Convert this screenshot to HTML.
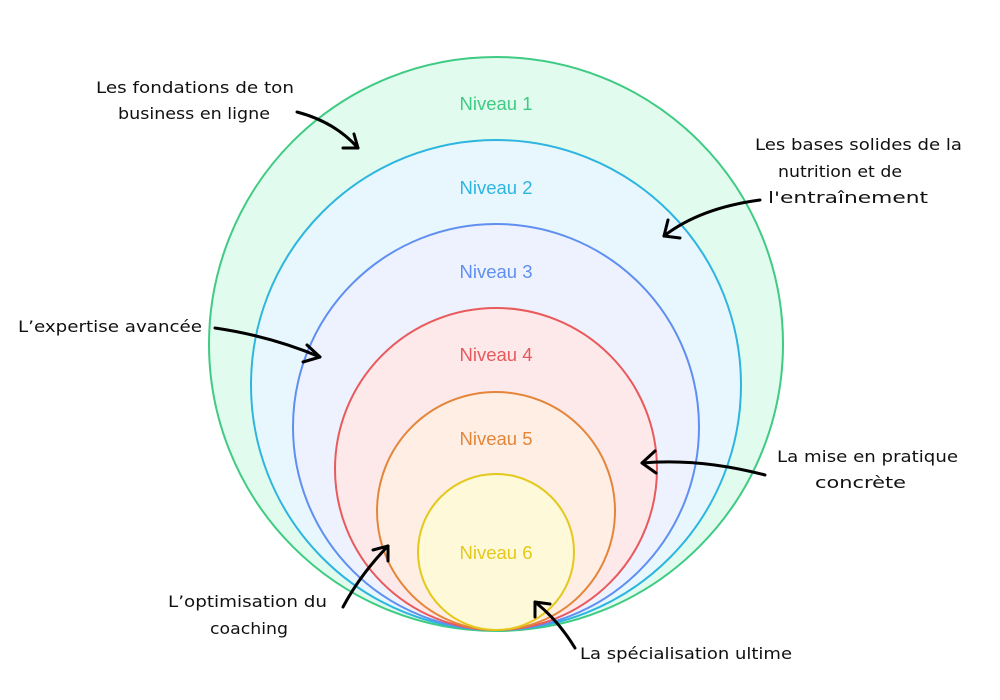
<!DOCTYPE html>
<html><head><style>body{margin:0;background:#fff}svg{display:block}</style></head><body>
<svg width="1000" height="700" xmlns="http://www.w3.org/2000/svg">
<g stroke-width="2">
<circle cx="496" cy="344" r="287" fill="#e1fbee" stroke="#3fcb83"/>
<circle cx="496" cy="385" r="245" fill="#e7f7fd" stroke="#2db5e0"/>
<circle cx="496" cy="427" r="203" fill="#edf2fe" stroke="#5f8ff0"/>
<circle cx="496" cy="469" r="161" fill="#fee9ea" stroke="#e85a5c"/>
<circle cx="496" cy="511" r="119" fill="#feeee3" stroke="#e4863a"/>
<circle cx="496" cy="552" r="78" fill="#fef9d9" stroke="#e4c81c"/>
</g>
<g font-family="Liberation Sans, sans-serif" font-size="18.5" text-anchor="middle">
<text x="496" y="110" fill="#3fcb83">Niveau 1</text>
<text x="496" y="194" fill="#2db5e0">Niveau 2</text>
<text x="496" y="278" fill="#5f8ff0">Niveau 3</text>
<text x="496" y="361" fill="#e85a5c">Niveau 4</text>
<text x="496" y="445" fill="#e4863a">Niveau 5</text>
<text x="496" y="559" fill="#e4c81c">Niveau 6</text>
</g>
<g fill="none" stroke="#000" stroke-width="3" stroke-linecap="round" stroke-linejoin="round">
<path d="M297 112 Q335 122 358 148"/><path d="M343 148 L358 148 L354 134"/>
<path d="M760 200 Q700 208 664 236"/><path d="M668 220 L664 236 L680 238"/>
<path d="M215 328 Q270 336 320 357"/><path d="M307 345 L320 357 L303 362"/>
<path d="M765 475 Q700 458 642 463"/><path d="M655 451 L642 463 L656 473"/>
<path d="M343 607 Q360 575 388 546"/><path d="M373 550 L388 546 L388 561"/>
<path d="M575 648 Q558 620 535 602"/><path d="M535 617 L535 602 L550 604"/>
</g>
<g font-family="DejaVu Sans, sans-serif" font-size="16" fill="#111" lengthAdjust="spacingAndGlyphs">
<text x="96" y="93" textLength="198" lengthAdjust="spacingAndGlyphs">Les fondations de ton</text>
<text x="118" y="119" textLength="152" lengthAdjust="spacingAndGlyphs">business en ligne</text>
<text x="755" y="150" textLength="207" lengthAdjust="spacingAndGlyphs">Les bases solides de la</text>
<text x="778" y="177" textLength="124" lengthAdjust="spacingAndGlyphs">nutrition et de</text>
<text x="768" y="203" textLength="160" lengthAdjust="spacingAndGlyphs">l'entraînement</text>
<text x="18" y="332" textLength="184" lengthAdjust="spacingAndGlyphs">L’expertise avancée</text>
<text x="777" y="462" textLength="181" lengthAdjust="spacingAndGlyphs">La mise en pratique</text>
<text x="815" y="488" textLength="91" lengthAdjust="spacingAndGlyphs">concrète</text>
<text x="168" y="607" textLength="159" lengthAdjust="spacingAndGlyphs">L’optimisation du</text>
<text x="210" y="634" textLength="78" lengthAdjust="spacingAndGlyphs">coaching</text>
<text x="580" y="659" textLength="212" lengthAdjust="spacingAndGlyphs">La spécialisation ultime</text>
</g>
</svg>
</body></html>
